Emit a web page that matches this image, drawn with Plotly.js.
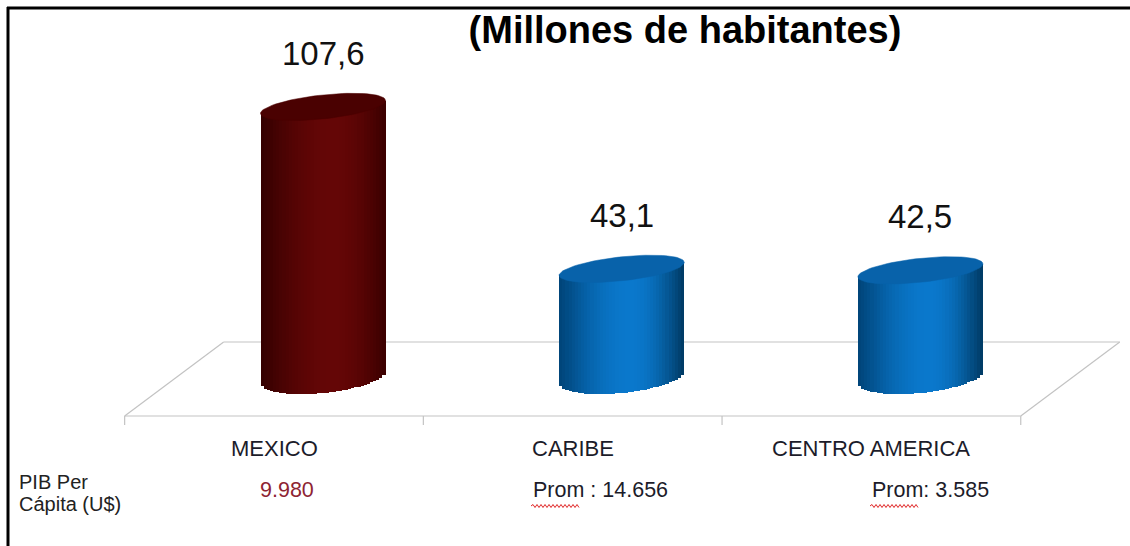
<!DOCTYPE html>
<html><head><meta charset="utf-8">
<script src="https://cdn.plot.ly/plotly-3.0.1.min.js"></script>
<style>html,body{margin:0;padding:0;background:#fff;} #chart{width:1130px;height:546px;}</style>
</head><body><div id="chart"></div>
<script>
// ---- data ----
const categories = ['MEXICO', 'CARIBE', 'CENTRO AMERICA'];
const population = [107.6, 43.1, 42.5];
const pibLabels = ['9.980', 'Prom : 14.656', 'Prom: 3.585'];
const pibTitle = ['PIB Per', 'Cápita (U$)'];
const chartTitle = '(Millones de habitantes)';

// ---- geometry / style ----
const W = 1130, H = 546;
const XU = 298.7, YU = 2.51;           // px per x-unit / y-unit
const FRONT_X0 = 274, BASE_PY = 377;
const xRange = [-FRONT_X0 / XU, (W - FRONT_X0) / XU];
const yRange = [-(H - BASE_PY) / YU, BASE_PY / YU];
const dxU = p => p / XU, dyU = p => p / YU;
const FONT = '"Liberation Sans", Arial, sans-serif';

const DEPTH_SHIFT = dxU(49);
const HW = dxU(62.5);
const TOP_B = dyU(12), TOP_S = dyU(6.5);
const BOT_B = dyU(16), BOT_S = dyU(6);
const N = 40;

const RED = {edgeL: [52, 0, 0], peak: [100, 6, 6], edgeR: [60, 0, 0], top: '#4a0101'};
const BLUE = {edgeL: [0, 68, 120], peak: [10, 120, 204], edgeR: [0, 58, 100], top: '#0862aa'};
const schemes = [RED, BLUE, BLUE];

function shade(sc, u) {
  const p = 0.15;
  const d = u < p ? (u - p) / (1 + p) : (u - p) / (1 - p);
  const w = Math.pow(Math.max(0, 1 - d * d), 1.2);
  const e = u < p ? sc.edgeL : sc.edgeR;
  const c = e.map((v, j) => Math.round(v + (sc.peak[j] - v) * w));
  return `rgb(${c[0]},${c[1]},${c[2]})`;
}

const xs = categories.map((c, i) => i + DEPTH_SHIFT);
const traces = [];
for (let k = 0; k < N; k++) {
  const u = -1 + (2 * k + 1) / N;
  const tops = population.map(v => v + TOP_S * u);
  const bottoms = population.map(() => BOT_S * u - BOT_B * Math.sqrt(Math.max(0, 1 - u * u)));
  traces.push({
    type: 'bar', x: xs, y: tops.map((t, i) => t - bottoms[i]), base: bottoms,
    width: 2 * HW / N, offset: -HW + k * 2 * HW / N,
    marker: {color: schemes.map(sc => shade(sc, u)), line: {width: 0}},
    hoverinfo: 'skip', showlegend: false
  });
}
// top ellipses
population.forEach((v, i) => {
  const ex = [], ey = [];
  for (let j = 0; j <= 80; j++) {
    const t = 2 * Math.PI * j / 80;
    ex.push(xs[i] + HW * Math.cos(t));
    ey.push(v + TOP_S * Math.cos(t) + TOP_B * Math.sin(t));
  }
  traces.push({type: 'scatter', mode: 'lines', x: ex, y: ey, fill: 'toself',
    fillcolor: schemes[i].top, line: {color: schemes[i].top, width: 0.5},
    hoverinfo: 'skip', showlegend: false});
});

// floor
const FY = dyU(-39), BY = dyU(35), DS2 = dxU(99), TICK = dyU(9);
const floorColor = '#c3c3c3';
const shapes = [];
const ln = (x0, y0, x1, y1) => shapes.push({type: 'line', xref: 'x', yref: 'y', x0, y0, x1, y1,
  line: {color: floorColor, width: 1.2}, layer: 'below'});
ln(-0.5, FY, 2.5, FY);
ln(-0.5 + DS2, BY, 2.5 + DS2, BY);
ln(-0.5, FY, -0.5 + DS2, BY);
ln(2.5, FY, 2.5 + DS2, BY);
for (let i = 0; i <= categories.length; i++) ln(i - 0.5, FY, i - 0.5, FY - TICK);

// border
shapes.push({type: 'line', xref: 'paper', yref: 'paper', x0: 7 / W, x1: 1, y0: 1 - 8 / H, y1: 1 - 8 / H,
  line: {color: '#000', width: 3}});
shapes.push({type: 'line', xref: 'paper', yref: 'paper', x0: 8 / W, x1: 8 / W, y0: 1 - 7 / H, y1: 0,
  line: {color: '#000', width: 3}});

// spell-check squiggles
function squiggle(x0, x1, py) {
  let d = `M${x0 / W},${1 - py / H}`;
  let up = true;
  for (let x = x0 + 2; x <= x1; x += 2) {
    d += ` L${x / W},${1 - (py + (up ? -1.5 : 1.5)) / H}`;
    up = !up;
  }
  shapes.push({type: 'path', xref: 'paper', yref: 'paper', path: d, line: {color: '#e02828', width: 1}});
}
squiggle(531, 580, 506);
squiggle(870, 918, 506);

// annotations
const annotations = [];
population.forEach((v, i) => annotations.push({
  x: xs[i], y: v, xref: 'x', yref: 'y', yshift: Math.hypot(12, 6.5) + 40,
  text: String(v).replace('.', ','), showarrow: false, xanchor: 'center', yanchor: 'middle',
  font: {family: FONT, size: 33, color: '#111'}
}));
categories.forEach((c, i) => annotations.push({
  x: i, y: 1 - 448 / H, xref: 'x', yref: 'paper', text: c, showarrow: false,
  xanchor: 'center', yanchor: 'middle', font: {family: FONT, size: 22, color: '#1c1c2a'}
}));
const pibPos = [[316, 'right', '#8e2432'], [531, 'left', '#1c1c2a'], [870, 'left', '#1c1c2a']];
pibLabels.forEach((t, i) => annotations.push({
  x: pibPos[i][0] / W, y: 1 - 490 / H, xref: 'paper', yref: 'paper', text: t, showarrow: false,
  xanchor: pibPos[i][1], yanchor: 'middle', font: {family: FONT, size: 21.5, color: pibPos[i][2]}
}));
pibTitle.forEach((t, i) => annotations.push({
  x: 17 / W, y: 1 - (482 + 22 * i) / H, xref: 'paper', yref: 'paper', text: t, showarrow: false,
  xanchor: 'left', yanchor: 'middle', font: {family: FONT, size: 20, color: '#222'}
}));

const layout = {
  width: W, height: H, autosize: false,
  margin: {l: 0, r: 0, t: 0, b: 0, pad: 0},
  paper_bgcolor: '#fff', plot_bgcolor: '#fff',
  barmode: 'overlay', bargap: 0, bargroupgap: 0,
  title: {text: '<b>' + chartTitle + '</b>', x: 685 / W, xanchor: 'center', y: 1 - 30 / H, yanchor: 'middle',
    font: {family: FONT, size: 38, color: '#000'}},
  xaxis: {range: xRange, visible: false, fixedrange: true, automargin: false},
  yaxis: {range: yRange, visible: false, fixedrange: true, automargin: false},
  shapes, annotations, showlegend: false
};
Plotly.newPlot('chart', traces, layout, {displayModeBar: false, staticPlot: true});
</script></body></html>
